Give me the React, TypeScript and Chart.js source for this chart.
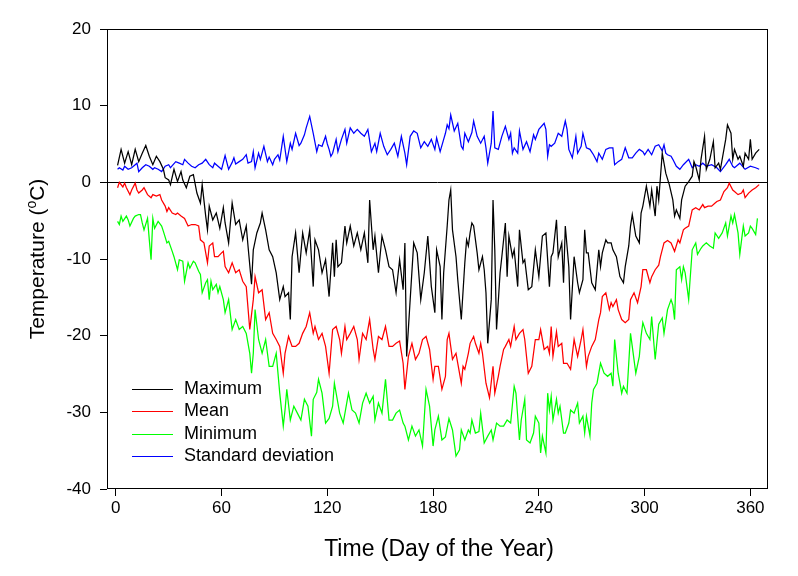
import { useEffect, useRef } from "react";
import { Chart, registerables } from "chart.js";

Chart.register(...registerables);

const FONT = "'Liberation Sans', Arial, sans-serif";

const xTickValues = [0, 60, 120, 180, 240, 300, 360];
const yTickValues = [-40, -30, -20, -10, 0, 10, 20];
const seriesNames = ["Maximum", "Mean", "Minimum", "Standard deviation"];
const seriesColors = ["#000000", "#ff0000", "#00ff00", "#0000ff"];
const xTitle = "Time (Day of the Year)";
const yTitleParts = ["Temperature (", "o", "C)"];

// [day of year, temperature °C]
const maximumSeries = [
  [1,2.2],[3,4.3],[5,2.5],[7,4.0],[9,2.3],[11,4.3],[13,2.7],[15,3.8],[17,4.8],[19,3.4],[21,2.3],[23,3.4],[25,2.7],[27,1.7],[28,0.6],[30,0.3],[31,-0.3],[33,1.7],[35,0.1],[37,1.4],[38,0.3],[40,-0.7],[42,0.8],[44,1.0],[46,-1.4],[48,-2.7],[49,-0.3],[51,-4.4],[52,-6.2],[53,-3.1],[55,-4.9],[57,-4.0],[59,-6.0],[61,-3.3],[62,-5.3],[64,-7.9],[66,-2.7],[68,-5.5],[70,-4.9],[72,-7.5],[74,-5.7],[75,-8.3],[77,-13.3],[78,-8.8],[80,-6.6],[82,-5.3],[83,-4.0],[85,-6.2],[87,-8.8],[89,-9.7],[91,-11.8],[93,-15.3],[95,-13.6],[96,-14.9],[98,-14.4],[99,-17.9],[100,-9.7],[102,-6.6],[104,-11.8],[106,-6.6],[108,-9.2],[110,-6.2],[112,-13.6],[113,-7.5],[115,-8.8],[117,-11.8],[119,-10.1],[121,-14.9],[123,-7.9],[124,-12.3],[125,-7.5],[126,-11.0],[128,-10.5],[130,-5.7],[131,-7.9],[133,-5.7],[135,-8.3],[137,-6.6],[139,-8.8],[141,-6.6],[143,-10.5],[144,-2.3],[146,-8.8],[147,-7.0],[149,-11.8],[151,-7.0],[153,-8.8],[155,-11.0],[157,-11.4],[159,-14.4],[161,-10.1],[163,-14.0],[164,-7.9],[165,-22.7],[167,-15.3],[169,-7.9],[171,-9.2],[173,-15.3],[175,-11.8],[177,-7.0],[179,-13.6],[181,-17.0],[182,-8.8],[184,-11.0],[185,-17.9],[186,-11.8],[188,-5.7],[189,-2.3],[190,-1.0],[191,-6.2],[193,-9.7],[194,-12.7],[196,-17.9],[198,-10.5],[199,-7.5],[200,-8.3],[201,-6.6],[202,-5.3],[203,-5.7],[205,-9.2],[206,-11.4],[208,-9.7],[209,-11.4],[210,-14.4],[211,-21.0],[213,-15.3],[214,-2.3],[215,-8.8],[216,-19.2],[218,-11.8],[219,-9.7],[221,-5.3],[222,-12.3],[223,-7.0],[225,-9.7],[226,-8.8],[228,-13.6],[229,-6.2],[231,-10.5],[232,-10.1],[234,-14.0],[236,-13.6],[238,-8.8],[240,-12.3],[242,-7.0],[244,-6.6],[246,-13.6],[247,-9.7],[248,-9.2],[250,-4.9],[251,-9.7],[253,-7.9],[254,-13.1],[255,-5.7],[257,-11.0],[258,-17.9],[260,-9.7],[262,-13.1],[263,-14.4],[265,-12.7],[266,-6.2],[267,-9.2],[268,-9.2],[270,-13.1],[272,-14.0],[274,-8.8],[275,-11.0],[276,-9.2],[278,-7.5],[279,-7.9],[281,-7.9],[282,-8.8],[284,-9.7],[286,-12.3],[288,-13.1],[289,-11.0],[291,-8.3],[292,-5.7],[293,-4.2],[295,-7.0],[297,-7.9],[298,-4.0],[299,-3.1],[301,-0.5],[303,-3.1],[304,-1.0],[306,-4.4],[307,-0.5],[308,-2.3],[310,3.8],[312,1.2],[314,-0.3],[316,-2.3],[317,-4.4],[318,-3.6],[320,-4.7],[321,-2.3],[323,-0.5],[325,0.1],[327,0.8],[328,2.7],[329,2.1],[331,0.3],[332,3.0],[334,6.0],[335,1.7],[337,3.0],[339,5.3],[340,1.9],[342,2.5],[343,1.7],[345,4.3],[346,5.6],[347,7.5],[349,6.4],[350,3.0],[351,4.3],[353,3.0],[354,3.4],[356,2.1],[357,3.8],[359,3.0],[360,5.6],[361,3.0],[363,3.8],[365,4.3]
];

const meanSeries = [
  [1,-0.7],[2,0.0],[4,-0.6],[5,-0.1],[6,-0.7],[8,-1.6],[9,-1.0],[11,-0.1],[12,-1.0],[13,-1.4],[15,-1.0],[16,-0.7],[18,-1.6],[20,-2.0],[21,-1.6],[23,-1.8],[25,-1.6],[26,-2.3],[28,-3.1],[29,-3.8],[30,-3.3],[32,-4.0],[34,-4.2],[35,-4.0],[37,-4.4],[39,-4.7],[41,-5.7],[43,-5.5],[45,-5.5],[47,-5.7],[48,-7.5],[50,-7.9],[52,-10.5],[53,-8.3],[55,-7.9],[56,-9.7],[58,-9.7],[60,-9.2],[61,-9.0],[62,-11.0],[64,-11.8],[66,-10.5],[68,-11.8],[70,-11.4],[72,-12.9],[74,-13.6],[76,-19.2],[78,-15.3],[79,-12.3],[81,-14.4],[83,-14.0],[85,-17.9],[87,-17.0],[89,-19.7],[91,-20.5],[93,-21.4],[95,-24.9],[96,-22.3],[98,-20.1],[100,-21.4],[102,-21.4],[104,-21.0],[106,-19.7],[108,-18.8],[110,-17.0],[112,-19.7],[113,-18.8],[115,-20.5],[117,-19.7],[119,-21.4],[121,-24.9],[123,-19.2],[125,-18.8],[127,-20.5],[128,-22.3],[130,-18.8],[131,-20.5],[133,-19.7],[135,-18.8],[137,-20.5],[138,-23.1],[140,-19.7],[142,-20.5],[144,-17.9],[146,-21.8],[147,-23.1],[149,-20.1],[151,-20.5],[153,-18.8],[155,-21.4],[157,-21.4],[159,-21.0],[161,-20.7],[163,-23.6],[164,-27.0],[166,-22.7],[168,-21.0],[170,-23.1],[172,-22.3],[174,-20.5],[176,-20.1],[178,-21.8],[180,-25.7],[181,-24.0],[183,-24.0],[185,-27.0],[187,-25.3],[188,-20.5],[189,-19.7],[190,-21.4],[191,-23.1],[193,-22.3],[194,-23.6],[196,-26.2],[197,-24.0],[198,-24.4],[200,-22.3],[201,-21.0],[203,-20.1],[204,-21.0],[206,-22.3],[207,-21.0],[208,-22.3],[210,-26.2],[212,-28.1],[214,-24.0],[215,-27.5],[217,-25.3],[218,-24.0],[220,-21.8],[221,-21.4],[223,-20.5],[224,-21.4],[226,-18.8],[227,-20.5],[229,-19.7],[231,-19.2],[232,-20.5],[234,-24.9],[236,-24.0],[238,-20.5],[240,-20.5],[241,-19.2],[243,-21.8],[245,-21.4],[246,-22.3],[247,-18.8],[248,-22.7],[250,-19.5],[251,-21.4],[253,-21.0],[254,-23.6],[256,-23.6],[258,-24.4],[260,-20.5],[262,-22.7],[264,-20.5],[265,-19.2],[267,-24.0],[268,-22.7],[270,-21.4],[272,-20.5],[274,-17.9],[275,-17.0],[276,-14.9],[278,-14.4],[280,-16.6],[281,-15.7],[282,-16.2],[284,-15.3],[285,-16.6],[287,-17.9],[289,-18.3],[291,-17.9],[292,-15.3],[294,-14.4],[296,-15.7],[298,-13.6],[299,-11.4],[301,-11.4],[303,-13.1],[304,-12.3],[306,-11.4],[308,-10.8],[309,-9.7],[311,-7.9],[313,-7.6],[315,-7.9],[317,-9.0],[319,-7.5],[320,-7.9],[322,-6.2],[323,-6.0],[325,-5.7],[327,-3.6],[329,-3.3],[331,-3.6],[333,-2.9],[334,-3.3],[336,-3.1],[338,-3.1],[340,-2.7],[341,-2.5],[343,-2.3],[345,-1.2],[347,-0.7],[348,-0.1],[350,-1.0],[351,-1.2],[353,-1.6],[355,-1.4],[356,-1.0],[357,-2.0],[359,-1.4],[361,-1.0],[363,-0.7],[365,-0.3]
];

const minimumSeries = [
  [1,-5.1],[2,-5.5],[3,-4.4],[4,-5.1],[6,-4.4],[7,-4.9],[8,-5.7],[10,-4.7],[11,-4.4],[13,-4.2],[14,-4.2],[15,-5.3],[16,-6.2],[18,-4.7],[19,-7.5],[20,-10.1],[21,-4.7],[22,-6.0],[24,-5.1],[26,-5.7],[27,-6.4],[29,-7.9],[30,-7.7],[32,-9.0],[33,-9.7],[35,-11.4],[36,-10.1],[38,-10.3],[39,-12.9],[41,-10.5],[42,-11.2],[44,-10.3],[45,-10.5],[47,-11.6],[48,-12.0],[49,-14.4],[51,-13.1],[52,-12.7],[53,-15.3],[54,-12.9],[55,-14.0],[57,-13.3],[58,-14.4],[59,-13.6],[61,-15.3],[62,-17.0],[64,-15.3],[66,-19.2],[68,-17.9],[70,-19.2],[72,-18.8],[74,-19.7],[76,-22.3],[77,-24.9],[78,-22.3],[79,-16.6],[81,-20.5],[83,-22.3],[85,-20.5],[87,-24.0],[89,-24.0],[91,-22.3],[93,-27.5],[95,-31.8],[96,-29.7],[97,-27.0],[99,-31.0],[101,-29.2],[103,-30.1],[105,-31.0],[107,-28.3],[109,-29.2],[111,-33.1],[112,-28.3],[114,-27.4],[115,-25.7],[117,-27.5],[119,-31.4],[121,-30.8],[123,-29.2],[124,-26.2],[127,-30.1],[129,-31.4],[130,-30.1],[132,-27.5],[134,-29.7],[136,-30.1],[138,-31.4],[140,-28.8],[142,-27.5],[144,-28.8],[146,-27.9],[147,-31.0],[149,-28.8],[151,-30.1],[153,-25.7],[155,-31.0],[157,-31.0],[159,-30.1],[161,-29.7],[163,-31.4],[164,-31.8],[166,-33.6],[168,-31.8],[170,-33.1],[172,-32.3],[174,-34.4],[176,-27.0],[178,-29.2],[180,-34.4],[181,-32.3],[183,-30.5],[185,-33.6],[187,-33.2],[189,-30.8],[191,-32.3],[193,-35.7],[195,-34.9],[196,-32.3],[198,-33.6],[200,-32.3],[201,-32.7],[202,-31.0],[204,-32.7],[206,-32.5],[207,-30.1],[209,-34.0],[211,-33.1],[213,-32.3],[214,-33.6],[216,-31.4],[218,-31.8],[220,-31.8],[222,-31.0],[224,-31.4],[226,-26.6],[227,-27.5],[229,-33.6],[230,-31.0],[232,-28.3],[233,-33.6],[235,-34.0],[237,-32.7],[238,-30.5],[240,-31.4],[241,-35.3],[242,-33.1],[244,-35.3],[245,-27.5],[246,-29.7],[247,-27.9],[248,-31.0],[250,-28.3],[251,-30.1],[252,-29.2],[254,-32.7],[255,-32.7],[257,-31.4],[258,-29.7],[260,-30.1],[262,-28.8],[263,-31.4],[265,-30.5],[266,-32.7],[267,-30.5],[269,-33.1],[270,-28.8],[271,-27.0],[273,-26.2],[275,-23.6],[277,-24.9],[279,-25.3],[281,-24.9],[282,-26.6],[283,-20.5],[285,-24.9],[287,-27.5],[288,-26.6],[290,-27.5],[292,-19.7],[293,-21.4],[295,-24.9],[297,-22.7],[298,-20.1],[299,-18.3],[301,-19.7],[303,-20.5],[304,-17.5],[306,-23.1],[308,-18.5],[310,-17.7],[311,-19.7],[313,-16.6],[315,-15.3],[316,-16.0],[317,-17.9],[318,-11.4],[320,-11.0],[321,-12.7],[322,-11.0],[323,-11.8],[325,-15.3],[327,-8.8],[329,-7.9],[330,-9.4],[332,-8.6],[333,-8.3],[335,-7.9],[337,-8.3],[339,-8.6],[340,-6.6],[342,-7.3],[344,-6.6],[346,-5.3],[347,-7.0],[349,-4.4],[350,-5.3],[351,-4.2],[353,-6.6],[354,-9.4],[356,-5.7],[357,-7.0],[359,-6.6],[360,-5.7],[361,-6.0],[363,-6.8],[364,-4.7]
];

const stdDevSeries = [
  [1,1.7],[2,1.9],[4,1.6],[5,2.1],[7,1.7],[9,1.9],[11,2.3],[12,2.5],[13,1.4],[15,1.9],[17,2.3],[19,2.1],[21,1.7],[22,1.9],[24,1.7],[26,1.4],[28,2.1],[30,2.3],[31,1.9],[34,2.7],[36,2.5],[38,2.3],[39,3.0],[41,2.5],[43,2.1],[45,1.9],[47,2.3],[49,2.5],[51,3.0],[53,2.3],[55,1.9],[56,2.5],[58,2.1],[60,1.7],[62,3.5],[64,1.7],[66,2.6],[67,3.2],[68,2.4],[70,2.7],[72,3.0],[74,3.6],[75,2.5],[77,2.7],[78,4.0],[79,1.9],[81,3.8],[82,3.0],[84,4.7],[86,2.7],[87,3.3],[89,2.3],[90,3.0],[92,3.6],[93,2.9],[95,6.0],[97,2.7],[99,5.1],[100,4.3],[102,6.4],[104,4.8],[105,5.1],[107,6.2],[108,7.1],[110,8.6],[112,6.4],[114,4.0],[115,4.9],[117,4.7],[119,6.0],[120,5.0],[121,4.3],[122,3.4],[123,3.8],[125,5.6],[126,4.0],[128,5.6],[130,6.9],[131,5.1],[133,7.1],[135,6.4],[137,6.9],[139,6.4],[141,6.0],[143,6.9],[145,4.0],[147,5.1],[148,4.0],[150,6.4],[152,4.7],[154,3.6],[156,4.3],[158,5.1],[160,3.4],[162,6.0],[164,3.8],[165,2.3],[167,6.0],[169,6.7],[171,6.4],[173,4.5],[175,5.3],[177,4.7],[179,5.6],[181,4.3],[182,5.8],[184,4.0],[186,5.6],[187,6.4],[188,7.5],[189,7.0],[190,8.8],[192,6.7],[194,7.7],[196,4.7],[197,4.3],[198,6.4],[200,5.3],[202,6.5],[203,8.0],[205,6.0],[207,5.1],[209,6.0],[210,4.5],[211,2.5],[213,5.1],[214,9.3],[215,4.5],[217,4.3],[219,6.0],[221,7.3],[223,5.6],[224,6.4],[225,3.8],[226,4.5],[228,3.8],[229,6.7],[231,4.3],[233,5.3],[235,4.0],[237,6.2],[238,5.6],[240,6.9],[243,7.7],[244,6.9],[245,3.4],[246,4.9],[247,4.7],[249,5.1],[251,6.4],[253,6.0],[255,8.0],[256,6.9],[257,4.3],[259,3.2],[261,6.0],[262,3.8],[264,4.7],[265,6.4],[267,4.5],[269,4.3],[271,3.6],[273,2.7],[274,3.8],[276,3.0],[278,4.3],[280,4.5],[282,4.5],[283,2.3],[285,2.7],[287,3.0],[289,4.5],[291,3.2],[293,3.2],[295,3.8],[297,4.3],[299,4.0],[300,3.6],[302,4.3],[304,3.6],[306,4.7],[308,4.9],[310,4.1],[311,4.9],[312,3.8],[313,3.6],[315,3.4],[316,3.0],[318,2.1],[320,1.7],[322,2.3],[325,3.0],[327,1.9],[329,2.3],[331,2.1],[333,2.5],[335,2.1],[338,2.3],[341,1.9],[343,1.4],[346,2.3],[348,3.0],[350,2.1],[351,1.9],[354,2.5],[357,1.7],[360,2.1],[363,1.9],[365,1.7]
];

const allSeries = [maximumSeries, meanSeries, minimumSeries, stdDevSeries];

const decorPlugin = {
  id: "decor",
  beforeDatasetsDraw(chart: any) {
    const { ctx, chartArea: a, scales } = chart;
    const y0 = Math.round(scales.y.getPixelForValue(0)) + 0.5;
    ctx.save();
    ctx.strokeStyle = "#000";
    ctx.lineWidth = 1;
    ctx.beginPath();
    ctx.moveTo(a.left, y0);
    ctx.lineTo(a.right, y0);
    ctx.stroke();
    ctx.restore();
  },
  afterDraw(chart: any) {
    const { ctx, chartArea: a } = chart;
    ctx.save();
    ctx.strokeStyle = "#000";
    ctx.lineWidth = 1;
    ctx.strokeRect(Math.round(a.left) + 0.5, Math.round(a.top) + 0.5, Math.round(a.right - a.left) - 1, Math.round(a.bottom - a.top) - 1);

    ctx.fillStyle = "#000";
    ctx.font = `23px ${FONT}`;
    ctx.textAlign = "center";
    ctx.textBaseline = "middle";
    ctx.fillText(xTitle, 439, 550);

    ctx.save();
    ctx.translate(36, 259);
    ctx.rotate(-Math.PI / 2);
    ctx.textAlign = "left";
    ctx.textBaseline = "alphabetic";
    const mainFont = `21px ${FONT}`;
    const supFont = `14px ${FONT}`;
    ctx.font = mainFont;
    const w1 = ctx.measureText(yTitleParts[0]).width;
    const w3 = ctx.measureText(yTitleParts[2]).width;
    ctx.font = supFont;
    const w2 = ctx.measureText(yTitleParts[1]).width;
    let x = -(w1 + w2 + w3) / 2;
    const base = 8;
    ctx.font = mainFont;
    ctx.fillText(yTitleParts[0], x, base);
    x += w1;
    ctx.font = supFont;
    ctx.fillText(yTitleParts[1], x, base - 8);
    x += w2;
    ctx.font = mainFont;
    ctx.fillText(yTitleParts[2], x, base);
    ctx.restore();

    ctx.font = `18px ${FONT}`;
    ctx.textAlign = "left";
    ctx.textBaseline = "middle";
    chart.data.datasets.forEach((ds: any, i: number) => {
      const y = Math.round(389 + i * 22.4) + 0.5;
      ctx.strokeStyle = ds.borderColor;
      ctx.lineWidth = 1;
      ctx.beginPath();
      ctx.moveTo(132, y);
      ctx.lineTo(173, y);
      ctx.stroke();
      ctx.fillStyle = "#000";
      ctx.fillText(ds.label, 184, y);
    });
    ctx.restore();
  },
};

export default function App() {
  const ref = useRef<HTMLCanvasElement>(null);
  useEffect(() => {
    const canvas = ref.current;
    if (!canvas) return;
    const chart = new Chart(canvas, {
      type: "line",
      data: {
        datasets: allSeries.map((s, i) => ({
          label: seriesNames[i],
          data: s.map(([x, y]) => ({ x, y })),
          borderColor: seriesColors[i],
          backgroundColor: seriesColors[i],
          borderWidth: 1.25,
          pointRadius: 0,
          tension: 0,
          fill: false,
        })),
      },
      options: {
        responsive: false,
        animation: false,
        devicePixelRatio: 1,
        layout: { padding: { top: 29, right: 30, bottom: 0, left: 0 } },
        plugins: { legend: { display: false }, tooltip: { enabled: false } },
        scales: {
          x: {
            type: "linear",
            min: -5,
            max: 370,
            afterBuildTicks: (s: any) => {
              s.ticks = xTickValues.map((v) => ({ value: v }));
            },
            afterFit: (s: any) => {
              s.height = 87;
            },
            grid: { drawOnChartArea: false, drawTicks: true, tickLength: 7, color: "#000" },
            border: { display: false },
            ticks: { color: "#000", font: { family: FONT, size: 17 }, padding: 2, maxRotation: 0, autoSkip: false },
          },
          y: {
            type: "linear",
            min: -40,
            max: 20,
            afterBuildTicks: (s: any) => {
              s.ticks = yTickValues.map((v) => ({ value: v }));
            },
            afterFit: (s: any) => {
              s.width = 107;
            },
            grid: { drawOnChartArea: false, drawTicks: true, tickLength: 7, color: "#000" },
            border: { display: false },
            ticks: { color: "#000", font: { family: FONT, size: 17 }, padding: 9 },
          },
        },
      },
      plugins: [decorPlugin],
    } as any);
    return () => chart.destroy();
  }, []);
  return (
    <div style={{ position: "fixed", left: 0, top: 0, width: 798, height: 576, background: "#fff" }}>
      <canvas ref={ref} width={798} height={576} style={{ display: "block" }} />
    </div>
  );
}
